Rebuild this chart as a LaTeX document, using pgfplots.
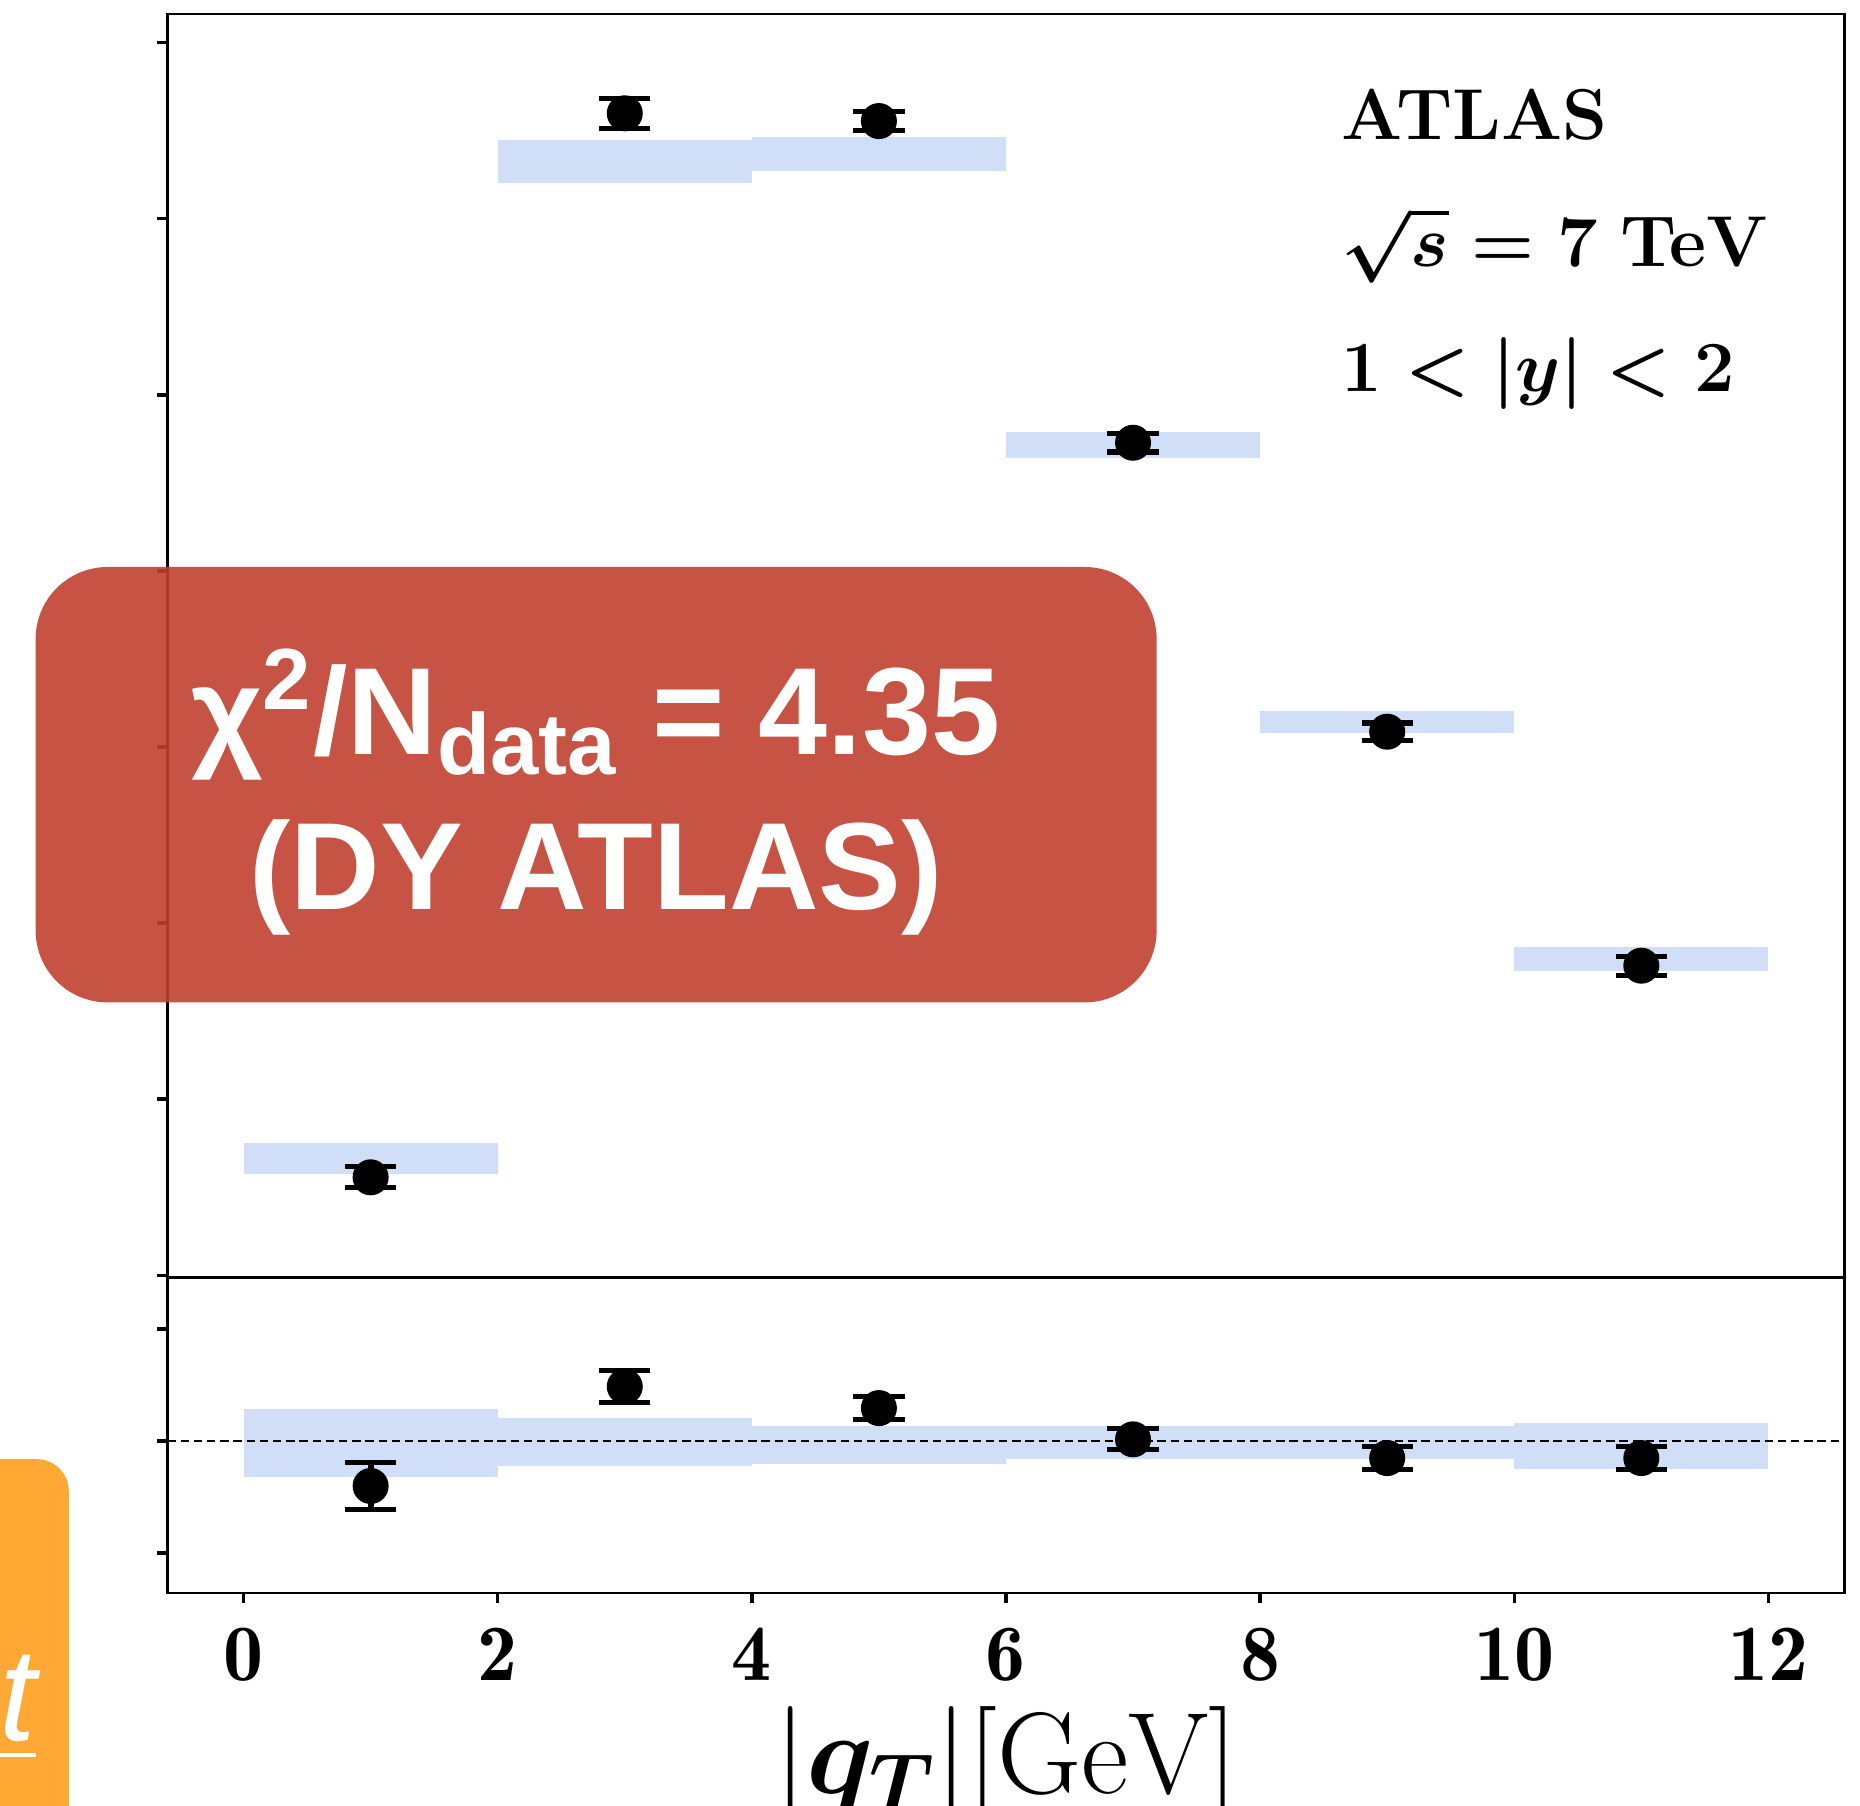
\RequirePackage{fix-cm}
\documentclass[border=0pt]{standalone}
\usepackage{amsmath}
\usepackage{fontspec}
\newfontfamily\libsans{Liberation Sans}
\usepackage{pgfplots}
\pgfplotsset{compat=1.18}
\definecolor{bandblue}{RGB}{208,223,247}
\definecolor{boxred}{RGB}{193,64,48}
\definecolor{boxorange}{RGB}{255,168,52}
\begin{document}
\begin{tikzpicture}
\useasboundingbox (0,0) rectangle (465pt,-451.5pt);
\clip (0,0) rectangle (465pt,-451.5pt);
\pgfplotsset{
  myax/.style={
    scale only axis, width=419.32pt,
    xmin=-0.6, xmax=12.6,
    axis line style={line width=0.6pt},
    tick align=outside, major tick length=2.5pt,
    tick style={line width=0.85pt, black},
    ytick pos=left, yticklabels={},
    ticklabel style={font=\fontsize{20}{24}\selectfont},
  },
  band/.style={fill=bandblue, draw=none, forget plot},
  pts/.style={only marks, mark=*, mark size=4.3pt, black,
    mark options={solid, fill=black},
    error bars/.cd, y dir=both, y explicit,
    error bar style={line width=1.5pt, black},
    error mark options={rotate=90, mark size=6.4pt, line width=1.3pt, black}},
}
% upper panel
\begin{axis}[myax, at={(41.83pt,-319.4pt)}, anchor=south west, height=315.85pt,
  ymin=-0.0136, ymax=7.162, ytick={0,1,...,7}, xtick=\empty]
\addplot[band] coordinates {(0,0.576) (2,0.576) (2,0.753) (0,0.753)};
\addplot[band] coordinates {(2,6.201) (4,6.201) (4,6.447) (2,6.447)};
\addplot[band] coordinates {(4,6.273) (6,6.273) (6,6.462) (4,6.462)};
\addplot[band] coordinates {(6,4.643) (8,4.643) (8,4.789) (6,4.789)};
\addplot[band] coordinates {(8,3.081) (10,3.081) (10,3.204) (8,3.204)};
\addplot[band] coordinates {(10,1.725) (12,1.725) (12,1.866) (10,1.866)};
\addplot[pts] table[x=x, y=y, y error=e] {
x y e
1 0.556 0.060
3 6.599 0.085
5 6.555 0.054
7 4.728 0.052
9 3.087 0.049
11 1.758 0.054
};
\end{axis}
% lower panel
\begin{axis}[myax, at={(41.83pt,-319.4pt)}, anchor=north west, height=78.88pt,
  ymin=-1.357, ymax=1.458, ytick={-1,0,1},
  xtick={0,2,...,12}, xtick pos=lower,
  xticklabels={$\mathbf{0}$,$\mathbf{2}$,$\mathbf{4}$,$\mathbf{6}$,$\mathbf{8}$,$\mathbf{10}$,$\mathbf{12}$},
  xticklabel style={yshift=-2.8pt},
  xlabel={$|\boldsymbol{q_T}|[\mathrm{GeV}]$},
  xlabel style={font=\fontsize{29}{34}\selectfont, at={(axis description cs:0.5,0)}, anchor=base, yshift=-50.1pt}]
\addplot[band] coordinates {(0,-0.324) (2,-0.324) (2,0.283) (0,0.283)};
\addplot[band] coordinates {(2,-0.223) (4,-0.223) (4,0.202) (2,0.202)};
\addplot[band] coordinates {(4,-0.208) (6,-0.208) (6,0.135) (4,0.135)};
\addplot[band] coordinates {(6,-0.163) (8,-0.163) (8,0.135) (6,0.135)};
\addplot[band] coordinates {(8,-0.163) (10,-0.163) (10,0.135) (8,0.135)};
\addplot[band] coordinates {(10,-0.253) (12,-0.253) (12,0.163) (10,0.163)};
\addplot[black, line width=0.5pt, dash pattern=on 2.1pt off 1.2pt, forget plot] coordinates {(-0.6,0) (12.6,0)};
\addplot[pts] table[x=x, y=y, y error=e] {
x y e
1 -0.401 0.208
3 0.486 0.140
5 0.294 0.101
7 0.015 0.094
9 -0.152 0.103
11 -0.152 0.103
};
\end{axis}
% annotations
\begin{scope}[font=\fontsize{18}{21}\selectfont\boldmath]
\node[anchor=base west, inner sep=0pt] at (335.2pt,-35pt) {\textbf{ATLAS}};
\node[anchor=base west, inner sep=0pt] at (335.2pt,-66.7pt) {$\sqrt{s}=\mathbf{7}\ \mathbf{TeV}$};
\node[anchor=base west, inner sep=0pt] at (335.2pt,-98pt) {$\mathbf{1}<|y|<\mathbf{2}$};
\end{scope}
% overlay boxes
\fill[boxred, fill opacity=0.9, rounded corners=18pt] (8.9pt,-141.75pt) rectangle (289.15pt,-250.6pt);
\node[anchor=base, text=white, inner sep=0pt, font=\libsans\bfseries\fontsize{31}{36}\selectfont] at (149pt,-188.6pt) {χ\textsuperscript{2}/N\textsubscript{data} = 4.35};
\node[anchor=base, text=white, inner sep=0pt, font=\libsans\bfseries\fontsize{31}{36}\selectfont] at (149pt,-227.3pt) {(DY ATLAS)};
\fill[boxorange, rounded corners=8pt] (-30pt,-364.8pt) rectangle (17.2pt,-480pt);
\node[anchor=base east, text=white, inner sep=0pt, font=\libsans\itshape\fontsize{33}{38}\selectfont] at (9.2pt,-435pt) {\underline{t}};
\end{tikzpicture}
\end{document}
